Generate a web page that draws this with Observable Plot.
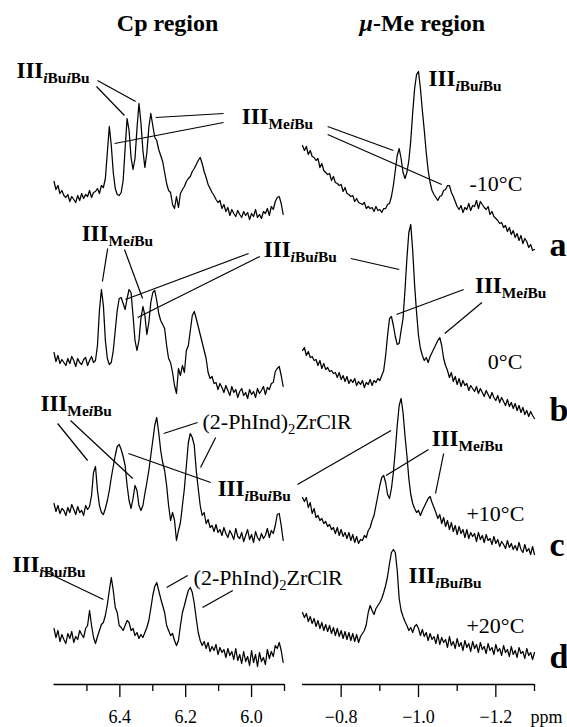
<!DOCTYPE html>
<html><head><meta charset="utf-8">
<script src="https://cdn.jsdelivr.net/npm/d3@7"></script>
<script src="https://cdn.jsdelivr.net/npm/@observablehq/plot@0.6"></script>
<style>
body{margin:0;background:#fff;}
#chart{position:relative;width:567px;height:727px;}
#chart svg{position:absolute;left:0;top:0;}
</style></head><body><div id="chart"></div>
<script>
// ---- data ----
const rows = ["a", "b", "c", "d"];
const temps = ["-10°C", "0°C", "+10°C", "+20°C"];
const rowOffsets = [464, 304, 154, 24];          // vertical stacking of the spectra
const cpDomain = [6.6, 5.9], cpStart = 6.6, cpStep = 0.006;
const meDomain = [-0.7, -1.3], meStart = -0.7, meStep = 0.005;
const cpMajor = [6.4, 6.2, 6.0], cpMinor = [6.5, 6.3, 6.1, 5.9];
const meMajor = [-0.8, -1.0, -1.2], meMinor = [-0.9, -1.1, -1.3];

// Cp region intensities (6.6 -> 5.9 ppm, step 0.006)
const cpA = [39,31,35,27,30,25,23,26,19,24, 21,18,25,20,27,22,26,24,30,23, 28,29,32,27,35,33,42,68,94,75,
  48,32,26,25,28,40,72,102,90,63, 51,62,92,117,98,70,53,68,93,107, 95,83,80,71,65,59,48,37,30,28,
  16,12,24,13,27,31,34,39,42,44, 49,52,56,60,63,57,49,43,36,32, 28,25,21,18,20,12,16,9,13,5,
  11,7,4,10,6,3,9,5,8,1, 7,4,11,3,6,2,9,7,12,5, 14,11,19,23,24,17,6];
const cpB = [28,19,25,17,21,18,15,22,17,24, 20,14,22,18,16,21,23,15,20,24, 18,20,35,70,91,75,40,22,16,18,
  30,50,70,82,83,77,71,82,91,88, 65,40,30,40,62,74,65,46,58,78, 88,90,80,67,60,56,52,35,22,18,
  8,-5,-13,12,5,15,8,30,35,50, 65,69,62,54,46,38,30,22,8,2, 4,-3,-2,-9,-3,-7,-12,-5,-10,-15,
  -6,-12,-9,-17,-11,-8,-15,-12,-18,-9, -14,-11,-17,-8,-13,-10,-6,-14,-7,-9, -3,-2,9,12,14,5,-6];
const cpC = [27,19,25,17,22,20,15,23,18,26, 21,16,24,18,20,15,25,21,24,35, 58,64,40,25,18,16,22,30,40,53,
  64,75,84,86,81,74,65,45,30,22, 32,45,40,25,20,25,37,48,60,75, 90,105,113,98,80,68,60,45,25,10,
  18,10,-10,0,8,25,42,65,88,97, 93,85,60,42,25,15,18,7,11,3, 5,-1,6,-2,1,-5,3,-3,-7,0,
  -4,-9,2,-6,-8,-2,-11,-5,1,-9, -4,-12,-1,-7,-10,-3,-8,-5,2,-7, 0,-3,5,16,17,5,-10];
const cpD = [32,23,30,19,26,21,17,27,22,29, 18,24,21,30,26,23,32,35,50,35, 23,17,24,30,36,38,45,56,70,83,
  70,53,48,35,33,30,35,40,38,30, 32,25,28,22,26,23,28,33,40,52, 65,74,78,70,62,55,48,35,30,25,
  27,20,15,20,35,48,55,63,70,73, 68,57,42,28,20,15,19,12,18,9, 14,10,16,6,13,8,11,3,12,5,
  9,1,12,0,6,-3,9,-1,4,-5, 10,-2,6,-6,8,-1,3,-4,11,2, 9,4,15,12,18,10,-2];

// mu-Me region intensities (-0.7 -> -1.3 ppm, step 0.005)
const meA = [75,70,74,66,70,64,63,60,62,53, 57,50,48,46,47,40,44,38,37,35, 36,29,33,27,26,24,25,19,22,18,
  17,16,18,12,14,12,13,9,14,10, 11,8,12,12,16,17,24,35,50,65, 72,62,48,42,48,60,80,108,132,146,
  149,132,110,90,68,50,38,30,26,23, 20,24,25,30,31,35,35,28,24,19, 14,11,15,8,13,11,17,10,15,14,
  20,12,19,16,13,11,14,6,9,4, 2,0,-3,-2,-7,-5,-11,-7,-14,-10, -17,-13,-20,-15,-23,-18,-21,-27,-24,-30, -29];
const meB = [30,33,25,29,23,24,20,21,15,20, 12,17,11,13,9,10,7,8,3,8, 1,5,-1,4,-3,1,-2,2,-5,-1,
  -4,0,-7,-2,-4,1,-5,0,-2,2, 0,5,10,25,45,62,64,55,44,36, 37,50,62,90,122,148,156,130,95,68,
  45,32,25,20,23,18,24,28,32,36, 40,43,35,22,15,10,3,8,-1,4, -4,2,-6,0,-5,-3,-10,-5,-8,-11,
  -6,-13,-8,-12,-16,-10,-14,-18,-12,-17, -20,-15,-22,-17,-21,-25,-19,-26,-22,-28, -23,-30,-25,-32,-27,-34,-30,-36,-31,-35, -38];
const meC = [33,29,33,23,28,17,22,13,15,10, 12,7,9,4,6,1,3,-3,3,-5, 1,-6,-2,-8,-2,-10,-4,-12,-6,-13,
  -9,-10,-5,-7,0,3,10,15,25,35, 45,53,55,48,36,32,42,58,80,105, 125,132,118,95,75,52,36,27,22,18,
  20,15,20,24,28,32,34,28,23,18, 12,16,7,13,4,10,1,8,-1,5, -4,4,-3,1,-7,1,-8,-2,-6,-3,
  -11,-2,-9,-5,-12,-4,-10,-8,-14,-6, -13,-9,-16,-11,-14,-18,-10,-17,-13,-19, -15,-20,-12,-19,-22,-14,-21,-18,-24,-16, -24];
const meD = [48,43,47,39,44,37,42,34,40,32, 38,30,36,29,35,27,33,25,32,24, 30,22,29,21,28,20,27,19,26,18,
  24,27,30,36,48,55,50,46,52,55, 58,62,68,75,84,97,108,111,108,90, 62,50,44,39,35,30,33,28,34,36,
  32,25,31,24,28,20,27,21,24,17, 26,16,23,18,21,13,24,15,19,12, 22,14,18,10,20,13,17,9,19,12,
  16,8,18,11,14,7,17,10,13,6, 16,9,12,5,15,8,11,4,14,6, 10,3,13,7,9,2,12,5,8,1, 8];

// ---- annotations (x in the panel's ppm, y in plot units) ----
const titles = [{panel: "cp", x: 6.255, y: 654, text: "Cp region"}, {panel: "me", x: -1.010, y: 654, text: "*μ*-Me region"}];
const cpBoldLabels = [
  {x: 6.714, y: 607, text: "III_{*i*Bu*i*Bu}"}, {x: 6.030, y: 561, text: "III_{Me*i*Bu}"},
  {x: 6.516, y: 444, text: "III_{Me*i*Bu}"}, {x: 5.963, y: 428, text: "III_{*i*Bu*i*Bu}"},
  {x: 6.641, y: 274, text: "III_{Me*i*Bu}"}, {x: 6.103, y: 189, text: "III_{*i*Bu*i*Bu}"},
  {x: 6.726, y: 113, text: "III_{*i*Bu*i*Bu}"}];
const cpPlainLabels = [{x: 6.149, y: 256, text: "(2-PhInd)_{2}ZrClR"}, {x: 6.176, y: 100, text: "(2-PhInd)_{2}ZrClR"}];
const cpLinks = [
  {x1: 6.468, y1: 604, x2: 6.352, y2: 583}, {x1: 6.471, y1: 598, x2: 6.386, y2: 569},
  {x1: 6.085, y1: 571, x2: 6.291, y2: 567}, {x1: 6.085, y1: 562, x2: 6.416, y2: 541},
  {x1: 6.437, y1: 436, x2: 6.453, y2: 403}, {x1: 6.386, y1: 435, x2: 6.331, y2: 386},
  {x1: 6.009, y1: 431, x2: 6.383, y2: 385}, {x1: 5.975, y1: 428, x2: 6.346, y2: 367},
  {x1: 6.589, y1: 261, x2: 6.498, y2: 224}, {x1: 6.550, y1: 264, x2: 6.361, y2: 206},
  {x1: 6.164, y1: 262, x2: 6.267, y2: 251}, {x1: 6.109, y1: 247, x2: 6.155, y2: 217},
  {x1: 6.124, y1: 202, x2: 6.374, y2: 231},
  {x1: 6.641, y1: 115, x2: 6.450, y2: 85}, {x1: 6.194, y1: 109, x2: 6.258, y2: 97},
  {x1: 6.057, y1: 94, x2: 6.149, y2: 77}];
const meBoldLabels = [
  {x: -1.026, y: 599, text: "III_{*i*Bu*i*Bu}"}, {x: -1.146, y: 392, text: "III_{Me*i*Bu}"},
  {x: -1.034, y: 239, text: "III_{Me*i*Bu}"}, {x: -0.974, y: 102, text: "III_{*i*Bu*i*Bu}"}];
const meLinks = [
  {x1: -0.765, y1: 558, x2: -0.935, y2: 534}, {x1: -0.765, y1: 550, x2: -1.060, y2: 500},
  {x1: -0.825, y1: 426, x2: -0.950, y2: 415}, {x1: -1.117, y1: 395, x2: -0.943, y2: 370},
  {x1: -1.164, y1: 382, x2: -1.068, y2: 351},
  {x1: -0.687, y1: 200, x2: -0.929, y2: 254}, {x1: -1.026, y1: 235, x2: -0.916, y2: 209},
  {x1: -1.065, y1: 231, x2: -1.044, y2: 191}];
const tempX = [-1.2685, -1.2685, -1.2737, -1.2737], tempY = [494, 316, 164, 52];
const letterX = -1.339, letterY = [429, 264, 129, 17];
const unitLabel = {x: -1.331, y: -38, text: "ppm"};

// ---- build tables ----
const cpData = [], meData = [];
[cpA, cpB, cpC, cpD].forEach((arr, r) => arr.forEach((v, i) =>
  cpData.push({row: rows[r], ppm: +(cpStart - i * cpStep).toFixed(4), y: rowOffsets[r] + v})));
[meA, meB, meC, meD].forEach((arr, r) => arr.forEach((v, i) =>
  meData.push({row: rows[r], ppm: +(meStart - i * meStep).toFixed(4), y: rowOffsets[r] + v})));
const tempLabels = temps.map((t, i) => ({x: tempX[i], y: tempY[i], text: t}));
const letterLabels = rows.map((t, i) => ({x: letterX, y: letterY[i], text: t}));

const FONT = "'Liberation Serif', 'Times New Roman', Times, serif";
const W = 567, H = 727;
const base = {
  width: W, height: H, marginTop: 0, marginBottom: 43,
  y: {domain: [0, 684], axis: null},
  style: {background: "transparent", fontFamily: FONT, overflow: "visible", color: "black"}
};
const lineOpts = {x: "ppm", y: "y", z: "row", stroke: "black", strokeWidth: 1.25, strokeLinejoin: "round"};
const linkOpts = {x1: "x1", y1: "y1", x2: "x2", y2: "y2", stroke: "black", strokeWidth: 1.2};
const boldOpts = {x: "x", y: "y", text: "text", textAnchor: "start", lineAnchor: "bottom", fontSize: 23, fontWeight: "bold", fontFamily: FONT};

function axisMarks(domain, major, minor) {
  return [
    Plot.ruleY([0], {x1: domain[0], x2: domain[1], stroke: "black", strokeWidth: 1.3}),
    Plot.ruleX(major, {y1: 0, y2: -13, stroke: "black", strokeWidth: 1.3}),
    Plot.ruleX(minor, {y1: 0, y2: -7, stroke: "black", strokeWidth: 1.3}),
    Plot.axisX({ticks: major, tickSize: 0, tickPadding: 26, fontSize: 18, fontFamily: FONT, tickFormat: d3.format(".1f"), label: null})
  ];
}

const left = Plot.plot({
  ...base, marginLeft: 53.5, marginRight: W - 284,
  x: {domain: cpDomain},
  marks: [
    Plot.line(cpData, lineOpts),
    ...axisMarks(cpDomain, cpMajor, cpMinor),
    Plot.link(cpLinks, linkOpts),
    Plot.text(cpBoldLabels, boldOpts),
    Plot.text(cpPlainLabels, {...boldOpts, fontWeight: "normal", fontSize: 22}),
    Plot.text(titles.filter(d => d.panel === "cp"), {x: "x", y: "y", text: "text", lineAnchor: "bottom", fontSize: 24, fontWeight: "bold", fontFamily: FONT})
  ]
});

const right = Plot.plot({
  ...base, marginLeft: 302, marginRight: W - 534,
  x: {domain: meDomain},
  marks: [
    Plot.line(meData, lineOpts),
    ...axisMarks(meDomain, meMajor, meMinor),
    Plot.link(meLinks, linkOpts),
    Plot.text(meBoldLabels, boldOpts),
    Plot.text(tempLabels, {x: "x", y: "y", text: "text", textAnchor: "end", lineAnchor: "bottom", fontSize: 22, fontFamily: FONT}),
    Plot.text(letterLabels, {x: "x", y: "y", text: "text", textAnchor: "start", lineAnchor: "bottom", fontSize: 34, fontWeight: "bold", fontFamily: FONT}),
    Plot.text([unitLabel], {x: "x", y: "y", text: "text", lineAnchor: "bottom", fontSize: 18, fontFamily: FONT}),
    Plot.text(titles.filter(d => d.panel === "me"), {x: "x", y: "y", text: "text", lineAnchor: "bottom", fontSize: 24, fontWeight: "bold", fontFamily: FONT})
  ]
});

// rich text: "_{...}" subscript, "*...*" italic
function rich(svg) {
  const NS = "http://www.w3.org/2000/svg";
  svg.querySelectorAll("text").forEach((t) => {
    const s = t.textContent;
    if (!/[_*]/.test(s)) return;
    const g = t.closest("[font-size]");
    const fs = g ? parseFloat(g.getAttribute("font-size")) : 10;
    const subFs = fs * 0.67, shift = fs * 0.24;
    t.textContent = "";
    let cur = 0;
    s.split(/(_\{[^}]*\})/).forEach((p) => {
      if (!p) return;
      const isSub = p.startsWith("_{");
      const body = isSub ? p.slice(2, -1) : p;
      body.split("*").forEach((seg, k) => {
        if (!seg) return;
        const ts = document.createElementNS(NS, "tspan");
        const target = isSub ? shift : 0;
        if (target !== cur) { ts.setAttribute("dy", (target - cur).toFixed(2)); cur = target; }
        if (isSub) ts.setAttribute("font-size", subFs.toFixed(1));
        if (k % 2) ts.setAttribute("font-style", "italic");
        ts.textContent = seg;
        t.appendChild(ts);
      });
    });
  });
}
rich(left); rich(right);
const chart = document.getElementById("chart");
chart.appendChild(left);
chart.appendChild(right);
</script>
</body></html>
